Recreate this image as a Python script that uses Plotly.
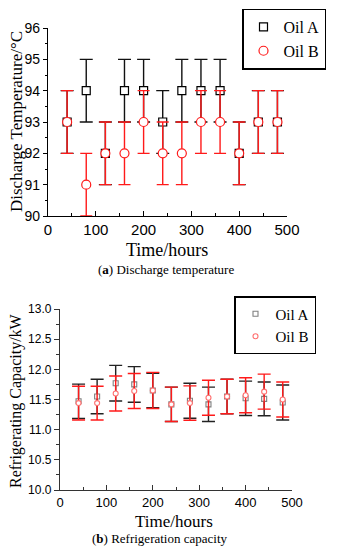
import plotly.graph_objects as go

# ---- Data ----
time_hours = [40, 80, 120, 160, 200, 240, 280, 320, 360, 400, 440, 480]

# (a) Discharge temperature (°C)
temp_oil_a = [93, 94, 92, 94, 94, 93, 94, 94, 94, 92, 93, 93]
temp_oil_b = [93, 91, 92, 92, 93, 92, 92, 93, 93, 92, 93, 93]
temp_err_a = [1, 1, 1, 1, 1, 1, 1, 1, 1, 1, 1, 1]
temp_err_b = [1, 1, 1, 1, 1, 1, 1, 1, 1, 1, 1, 1]

# (b) Refrigerating capacity (kW)
cap_oil_a = [11.47, 11.55, 11.77, 11.75, 11.65, 11.42, 11.48, 11.42, 11.55, 11.52, 11.51, 11.45]
cap_oil_b = [11.44, 11.44, 11.60, 11.64, 11.65, 11.42, 11.44, 11.53, 11.55, 11.57, 11.63, 11.50]
cap_err_a = [0.285, 0.285, 0.295, 0.295, 0.285, 0.285, 0.29, 0.285, 0.285, 0.285, 0.28, 0.29]
cap_err_b = [0.28, 0.28, 0.29, 0.29, 0.30, 0.285, 0.285, 0.29, 0.285, 0.29, 0.29, 0.29]

# The page body has an 8px margin, so the figure is sized to fit the window
OFF = 8
W, H = 338 - OFF, 550 - OFF
def px(x):
    return (x - OFF) / W
def py(y):
    return 1 - (y - OFF) / H

RED = "#ff1a1a"
BLACK = "#000000"
SERIF = "Liberation Serif"
SANS = "Liberation Sans"

fig = go.Figure()

# Top chart traces
fig.add_trace(go.Scatter(
    x=time_hours, y=temp_oil_a, mode="markers", name="Oil A",
    marker=dict(symbol="square", size=8, color="white", line=dict(color=BLACK, width=1.2)),
    error_y=dict(type="data", array=temp_err_a, color="#111111", thickness=1.4, width=6.5),
    xaxis="x", yaxis="y", legend="legend"))
fig.add_trace(go.Scatter(
    x=time_hours, y=temp_oil_b, mode="markers", name="Oil B",
    marker=dict(symbol="circle", size=9, color="white", line=dict(color=RED, width=1.2)),
    error_y=dict(type="data", array=temp_err_b, color=RED, thickness=1.4, width=6),
    xaxis="x", yaxis="y", legend="legend"))

# Bottom chart traces
fig.add_trace(go.Scatter(
    x=time_hours, y=cap_oil_a, mode="markers", name="Oil A",
    marker=dict(symbol="square", size=5, color="white", line=dict(color="#808080", width=1.1)),
    error_y=dict(type="data", array=cap_err_a, color="#222222", thickness=1.4, width=6.5),
    xaxis="x2", yaxis="y2", legend="legend2"))
fig.add_trace(go.Scatter(
    x=time_hours, y=cap_oil_b, mode="markers", name="Oil B",
    marker=dict(symbol="circle", size=5, color="white", line=dict(color="#ff7070", width=1.1)),
    error_y=dict(type="data", array=cap_err_b, color=RED, thickness=1.4, width=6.5),
    xaxis="x2", yaxis="y2", legend="legend2"))

axis_common = dict(showgrid=False, zeroline=False, showline=True, linecolor="#000",
                   linewidth=1.3, tickcolor="#000", tickwidth=1.2, automargin=False)

def ann(text, x, y, size, angle=0):
    return dict(text=text, x=px(x), y=py(y), xref="paper", yref="paper",
                xanchor="center", yanchor="middle", textangle=angle, showarrow=False,
                font=dict(family=SERIF, size=size, color="#000"))

fig.update_layout(
    width=W, height=H,
    margin=dict(l=0, r=0, t=0, b=0, autoexpand=False),
    paper_bgcolor="white", plot_bgcolor="white",
    font=dict(family=SERIF, color="#000"),
    showlegend=True,
    xaxis=dict(domain=[px(48), px(287)], range=[0, 500], anchor="y",
               tickvals=[0, 100, 200, 300, 400, 500], ticks="inside", ticklen=5,
               minor=dict(dtick=50, tick0=0, ticks="inside", ticklen=3, tickcolor="#000"),
               tickfont=dict(family=SANS, size=15, color="#000"), **axis_common),
    yaxis=dict(domain=[py(216), py(28)], range=[90, 96], anchor="x",
               dtick=1, ticks="outside", ticklen=4,
               minor=dict(dtick=0.5, ticks="outside", ticklen=2, tickcolor="#000"),
               tickfont=dict(family=SANS, size=14, color="#000"), **axis_common),
    xaxis2=dict(domain=[px(60), px(292)], range=[0, 500], anchor="y2",
                tickvals=[0, 100, 200, 300, 400, 500], ticks="inside", ticklen=5,
                minor=dict(dtick=50, tick0=0, ticks="inside", ticklen=3, tickcolor="#333"),
                tickfont=dict(family=SANS, size=13, color="#000"),
                **{**axis_common, "linecolor": "#333", "tickcolor": "#333"}),
    yaxis2=dict(domain=[py(490), py(309)], range=[10, 13], anchor="x2",
                tickvals=[10, 10.5, 11, 11.5, 12, 12.5, 13],
                ticktext=["10.0", "10.5", "11.0", "11.5", "12.0", "12.5", "13.0"],
                ticks="outside", ticklen=5,
                minor=dict(dtick=0.25, tick0=10, ticks="outside", ticklen=3, tickcolor="#333"),
                tickfont=dict(family=SANS, size=12, color="#000"),
                **{**axis_common, "linecolor": "#333", "tickcolor": "#333"}),
    legend=dict(x=px(242), y=0.999, xanchor="left", yanchor="top",
                bordercolor="#000", borderwidth=1.5, bgcolor="white",
                font=dict(family=SERIF, size=16, color="#000"),
                itemwidth=30, tracegroupgap=0),
    legend2=dict(x=px(234), y=py(296), xanchor="left", yanchor="top",
                 bordercolor="#000", borderwidth=1.5, bgcolor="white",
                 font=dict(family=SERIF, size=15, color="#000"),
                 itemwidth=30, tracegroupgap=0),
    annotations=[
        ann("Discharge Temperature/°C", 16, 122, 17, -90),
        ann("Time/hours", 167, 250, 18),
        ann("(<b>a</b>) Discharge temperature", 166, 269, 13),
        ann("Refrigerating Capacity/kW", 16, 401, 16, -90),
        ann("Time/hours", 174, 521, 17),
        ann("(<b>b</b>) Refrigeration capacity", 160, 538, 13),
    ],
)

fig.write_html("out.html")
